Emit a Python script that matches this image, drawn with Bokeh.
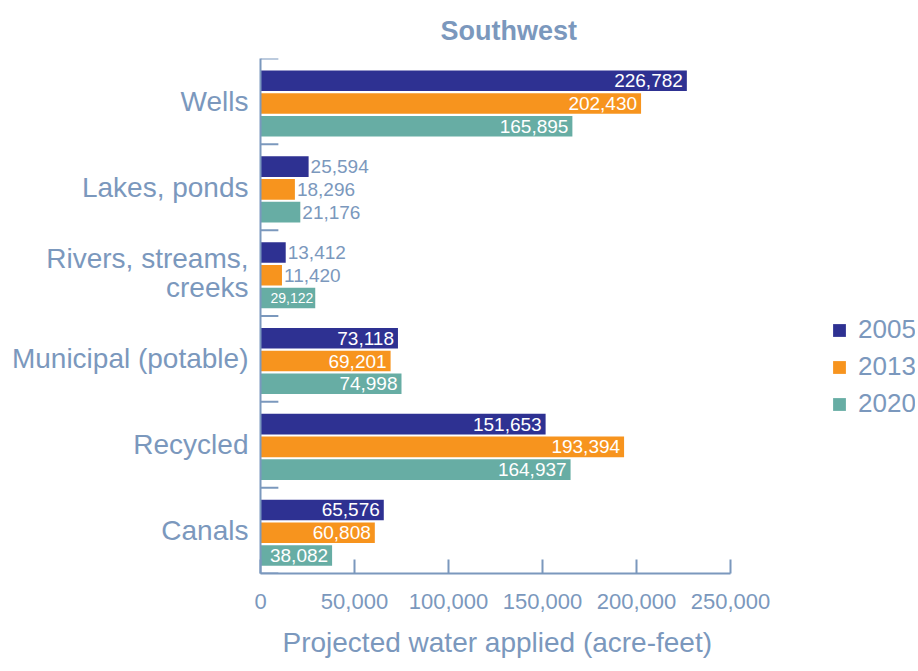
from bokeh.plotting import figure
from bokeh.models import (ColumnDataSource, FactorRange, Range1d, Legend, LegendItem,
                          NumeralTickFormatter, FixedTicker, Title)
from bokeh.core.properties import value
from bokeh.transform import dodge
from bokeh.embed import file_html
from bokeh.resources import INLINE

# ---- data ----
categories = ["Wells", "Lakes, ponds", "Rivers, streams,\ncreeks",
              "Municipal (potable)", "Recycled", "Canals"]
years = ["2005", "2013", "2020"]
v2005 = [226782, 25594, 13412, 73118, 151653, 65576]
v2013 = [202430, 18296, 11420, 69201, 193394, 60808]
v2020 = [165895, 21176, 29122, 74998, 164937, 38082]
x_ticks = [0, 50000, 100000, 150000, 200000, 250000]

FONT = "Liberation Sans"
TXT = "#7b98bd"
colors = ["#2e3192", "#f7941e", "#67ada4"]
offsets = [0.24, -0.025, -0.29]
series = [v2005, v2013, v2020]

AXIS_PX = 470            # pixels for 0..250,000
X_MAX = 250000
X_END = X_MAX * 655 / AXIS_PX   # extra room on the right for the legend
PX_PER_UNIT = AXIS_PX / X_MAX

p = figure(width=916, height=671, output_backend="svg", toolbar_location=None,
           y_range=FactorRange(factors=list(reversed(categories))),
           x_range=Range1d(0, X_END),
           min_border_left=260, min_border_right=1, min_border_top=57,
           min_border_bottom=98, title="Southwest")
p.outline_line_color = None
p.xgrid.grid_line_color = None
p.ygrid.grid_line_color = None
p.background_fill_color = "white"

p.title.text_font = FONT
p.title.text_font_size = "27px"
p.title.text_font_style = "bold"
p.title.text_color = TXT
p.title.align = "left"
p.title.offset = 180
p.title.standoff = 26

# x axis
xa = p.xaxis[0]
xa.bounds = (0, X_MAX)
xa.ticker = FixedTicker(ticks=x_ticks)
xa.formatter = NumeralTickFormatter(format="0,0")
xa.major_label_text_font = FONT
xa.major_label_text_font_size = "22px"
xa.major_label_text_color = TXT
xa.major_label_standoff = 20
xa.axis_line_color = TXT
xa.axis_line_width = 2
xa.major_tick_line_color = TXT
xa.major_tick_line_width = 2
xa.major_tick_in = 14
xa.major_tick_out = 0
xa.minor_tick_line_color = None

# x axis title, centred under the 0..250,000 axis
p.add_layout(Title(text="Projected water applied (acre-feet)", align="left",
                   offset=22, standoff=27, text_font=FONT, text_font_size="28px",
                   text_font_style="normal", text_color=TXT), "below")

# y axis
ya = p.yaxis[0]
ya.major_label_text_font = FONT
ya.major_label_text_font_size = "28px"
ya.major_label_text_line_height = 0.95
ya.major_label_text_color = TXT
ya.major_label_standoff = 12
ya.axis_line_color = TXT
ya.axis_line_width = 2
ya.major_tick_line_color = None
ya.major_tick_in = 0
ya.major_tick_out = 0

# category boundary ticks
bounds_y = [("Wells", 0.5)] + [(c, -0.5) for c in categories]
p.segment(x0=[0] * len(bounds_y), x1=[9500] * len(bounds_y),
          y0=bounds_y, y1=bounds_y, line_color=TXT, line_width=2)

items = []
for yr, vals, col, off in zip(years, series, colors, offsets):
    labels = [f"{v:,}" for v in vals]
    bar_px = [v * PX_PER_UNIT for v in vals]
    text_px = [19 * (0.556 * (len(s) - 1) + 0.278) for s in labels]
    inside = [v >= 28000 for v in vals]
    fs = ["19px" if (not i or b >= t + 2) else "14px"
          for i, b, t in zip(inside, bar_px, text_px)]
    src = ColumnDataSource(dict(
        cat=categories, val=vals, label=labels,
        align=["right" if i else "left" for i in inside],
        xoff=[(-4 if f == "19px" else -2) if i else 2 for i, f in zip(inside, fs)],
        tcolor=["white" if i else TXT for i in inside],
        fs=fs,
    ))
    r = p.hbar(y=dodge("cat", off, range=p.y_range), right="val", left=0,
               height=0.24, source=src, fill_color=col, line_color=None)
    p.text(x="val", y=dodge("cat", off, range=p.y_range), text="label",
           text_align="align", x_offset="xoff", text_color="tcolor",
           text_baseline="middle", text_font_size="fs", text_font=value(FONT),
           source=src)
    items.append(LegendItem(label=yr, renderers=[r]))

legend = Legend(items=items, location=(571, 154), orientation="vertical",
                label_text_font=FONT, label_text_font_size="26px",
                label_text_color=TXT, glyph_width=16, glyph_height=16,
                label_standoff=11, label_height=30, spacing=6, padding=0, margin=0,
                border_line_color=None, background_fill_alpha=0)
p.add_layout(legend, "center")

open("out.html", "w").write(file_html(p, INLINE))
